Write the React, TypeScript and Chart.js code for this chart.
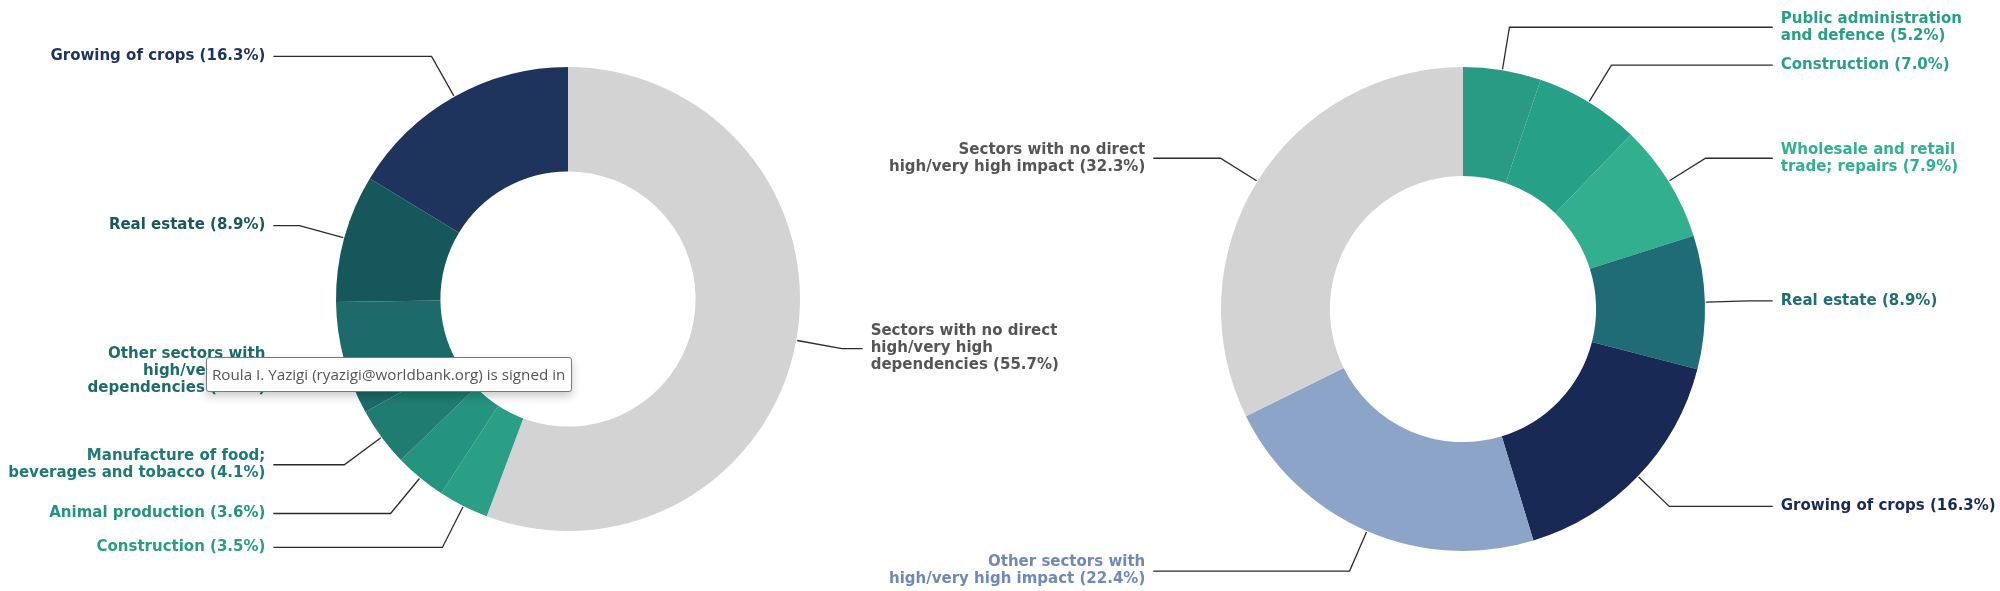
import React, { useEffect, useRef } from "react";
import { Chart, registerables } from "chart.js";

Chart.register(...registerables);

// ---------- Data ----------
const leftNames = [
  "Sectors with no direct\nhigh/very high\ndependencies",
  "Construction",
  "Animal production",
  "Manufacture of food;\nbeverages and tobacco",
  "Other sectors with\nhigh/very high\ndependencies",
  "Real estate",
  "Growing of crops",
];
const leftValues = [55.7, 3.5, 3.6, 4.1, 7.9, 8.9, 16.3];
const leftColors = ["#d3d3d3", "#2a9f86", "#24937f", "#1f7c70", "#1c6b6a", "#16575b", "#1f345d"];
const leftTextColors = ["#555555", "#2a9d85", "#25947f", "#1f7b6f", "#1d6b6a", "#17585c", "#1f345d"];

const rightNames = [
  "Public administration\nand defence",
  "Construction",
  "Wholesale and retail\ntrade; repairs",
  "Real estate",
  "Growing of crops",
  "Other sectors with\nhigh/very high impact",
  "Sectors with no direct\nhigh/very high impact",
];
const rightValues = [5.2, 7.0, 7.9, 8.9, 16.3, 22.4, 32.3];
const rightColors = ["#299b83", "#27a088", "#31af8f", "#1f6b76", "#182956", "#8ba4c8", "#d3d3d3"];
const rightTextColors = ["#2b9e86", "#2aa088", "#33b08f", "#1f6e75", "#1a2b58", "#7089b6", "#555555"];

const signedInText = "Roula I. Yazigi (ryazigi@worldbank.org) is signed in";

// ---------- Leader-line label plugin ----------
const leaderPlugin = {
  id: "leaders",
  afterDatasetsDraw(chart: any) {
    const cfg = chart.options.plugins.leaders;
    if (!cfg) return;
    const ctx = chart.ctx as CanvasRenderingContext2D;
    const meta = chart.getDatasetMeta(0);
    const ds = chart.data.datasets[0];
    meta.data.forEach((arc: any, i: number) => {
      const p = arc.getProps(["x", "y", "startAngle", "endAngle", "outerRadius"], true);
      const a = (p.startAngle + p.endAngle) / 2;
      const c = Math.cos(a);
      const s = Math.sin(a);
      const R = p.outerRadius;
      const ax = p.x + c * (R + 1);
      const ay = p.y + s * (R + 1);
      const ex = p.x + c * R * cfg.elbow;
      const ey = p.y + s * R * cfg.elbow;
      const side = c >= 0 ? 1 : -1;
      const lx = p.x + side * R * cfg.lineX;
      ctx.save();
      ctx.strokeStyle = "#2b2b2b";
      ctx.lineWidth = 1.3;
      ctx.beginPath();
      ctx.moveTo(ax, ay);
      ctx.lineTo(ex, ey);
      ctx.lineTo(lx, ey);
      ctx.stroke();

      const value = ds.data[i] as number;
      const lines = (chart.data.labels[i] as string).split("\n");
      lines[lines.length - 1] += ` (${value.toFixed(1)}%)`;
      ctx.font = cfg.font;
      ctx.fillStyle = cfg.textColors[i];
      ctx.textBaseline = "middle";
      ctx.textAlign = side > 0 ? "left" : "right";
      const tx = lx + side * cfg.gap;
      const n = lines.length;
      lines.forEach((ln, k) => {
        ctx.fillText(ln, tx, ey + (k - (n - 1) / 2) * cfg.lineHeight);
      });
      ctx.restore();
    });
  },
};

function makeConfig(
  names: string[],
  values: number[],
  colors: string[],
  textColors: string[],
  radius: number,
  padding: any,
  lineX: number,
  elbow: number
): any {
  return {
    type: "doughnut",
    data: {
      labels: names,
      datasets: [
        {
          data: values,
          backgroundColor: colors,
          borderWidth: 0,
          hoverOffset: 0,
        },
      ],
    },
    options: {
      responsive: false,
      animation: false,
      events: [],
      radius: radius,
      cutout: "55%",
      layout: { padding },
      plugins: {
        legend: { display: false },
        tooltip: { enabled: false },
        leaders: {
          elbow,
          lineX,
          gap: 8,
          lineHeight: 17,
          font: "bold 15px 'DejaVu Sans'",
          textColors,
        },
      },
    },
    plugins: [leaderPlugin],
  };
}

function DonutCanvas({ config }: { config: any }) {
  const ref = useRef<HTMLCanvasElement>(null);
  useEffect(() => {
    if (!ref.current) return;
    const chart = new Chart(ref.current, config);
    return () => chart.destroy();
  }, [config]);
  return (
    <canvas
      ref={ref}
      width={2000}
      height={591}
      style={{ position: "absolute", left: 0, top: 0, width: 2000, height: 591 }}
    />
  );
}

const leftConfig = makeConfig(
  leftNames,
  leftValues,
  leftColors,
  leftTextColors,
  232,
  { left: 0, right: 2000 - 2 * 568, top: 7, bottom: 0 },
  1.27,
  1.2
);
const rightConfig = makeConfig(
  rightNames,
  rightValues,
  rightColors,
  rightTextColors,
  242,
  { left: 2 * 1463 - 2000, right: 0, top: 27, bottom: 0 },
  1.28,
  1.18
);

export default function App() {
  return (
    <div
      style={{
        position: "absolute",
        left: 0,
        top: 0,
        width: 2000,
        height: 591,
        background: "#ffffff",
        overflow: "hidden",
      }}
    >
      <DonutCanvas config={leftConfig} />
      <DonutCanvas config={rightConfig} />
      <div
        style={{
          position: "absolute",
          left: 206,
          top: 357,
          width: 366,
          height: 35,
          boxSizing: "border-box",
          border: "1px solid #7a7a7a",
          borderRadius: 3,
          background: "#ffffff",
          boxShadow: "0 4px 10px rgba(0,0,0,0.22)",
          fontFamily: "'Open Sans', 'Noto Sans', sans-serif",
          fontSize: 15.2,
          color: "#555555",
          lineHeight: "33px",
          paddingLeft: 5,
          whiteSpace: "nowrap",
          overflow: "hidden",
        }}
      >
        {signedInText}
      </div>
    </div>
  );
}
